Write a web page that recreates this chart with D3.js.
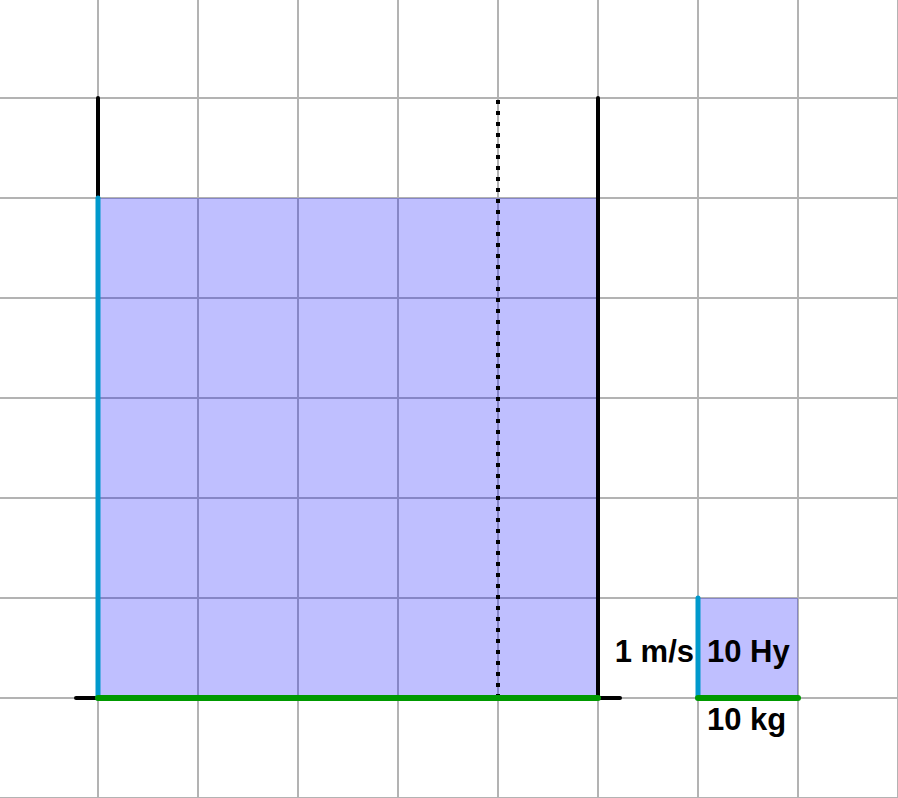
<!DOCTYPE html>
<html>
<head>
<meta charset="utf-8">
<script src="https://cdn.jsdelivr.net/npm/d3@7"></script>
<style>
html,body{margin:0;padding:0;background:#fff;overflow:hidden;}
svg{display:block;}
</style>
</head>
<body>
<svg id="chart" width="898" height="798"></svg>
<script>
// grid lines (data units)
const gridXs = [-1, 0, 1, 2, 3, 4, 5, 6, 7, 8];
const gridYs = [-1, 0, 1, 2, 3, 4, 5, 6, 7];
// shaded boxes: [x0, x1, y0, y1]
const boxX0 = [0, 6];
const boxX1 = [5, 7];
const boxY1 = [5, 1];
// black walls: x, yFrom, yTo
const wallX = [0, 5];
const wallFrom = [5, 0];
const wallTo = [6, 6];
// dotted line
const dotX = 4, dotFrom = 0, dotTo = 6;
// floor line
const floorFrom = -0.22, floorTo = 5.22;
// labels
const labelText = ["1 m/s", "10 Hy", "10 kg"];
const labelX = [6, 6, 6];
const labelY = [0.36, 0.36, -0.32];
const labelAnchor = ["end", "start", "start"];
const labelDx = [-4, 9, 9];

const W = 898, H = 798;
const x = d3.scaleLinear().domain([-0.98, 8.0]).range([0, W]);
const y = d3.scaleLinear().domain([-1, 6.98]).range([H, 0]);
const svg = d3.select("#chart");

// grid
svg.append("g").selectAll("line").data(gridXs).join("line")
  .attr("x1", d => x(d)).attr("x2", d => x(d)).attr("y1", 0).attr("y2", H)
  .attr("stroke", "#b3b3b3").attr("stroke-width", 2);
svg.append("g").selectAll("line").data(gridYs).join("line")
  .attr("y1", d => y(d)).attr("y2", d => y(d)).attr("x1", 0).attr("x2", W)
  .attr("stroke", "#b3b3b3").attr("stroke-width", 2);

// boxes
svg.append("g").selectAll("rect").data(boxX0.map((d, i) => i)).join("rect")
  .attr("x", i => x(boxX0[i])).attr("width", i => x(boxX1[i]) - x(boxX0[i]))
  .attr("y", i => y(boxY1[i])).attr("height", i => y(0) - y(boxY1[i]))
  .attr("fill", "rgb(0,0,255)").attr("fill-opacity", 0.25);

// floor (black)
svg.append("line")
  .attr("x1", x(floorFrom)).attr("x2", x(floorTo)).attr("y1", y(0)).attr("y2", y(0))
  .attr("stroke", "#000").attr("stroke-width", 4).attr("stroke-linecap", "round");

// walls
svg.append("g").selectAll("line").data(wallX.map((d, i) => i)).join("line")
  .attr("x1", i => x(wallX[i])).attr("x2", i => x(wallX[i]))
  .attr("y1", i => y(wallFrom[i])).attr("y2", i => y(wallTo[i]))
  .attr("stroke", "#000").attr("stroke-width", 4).attr("stroke-linecap", "round");

// dotted
svg.append("line")
  .attr("x1", x(dotX)).attr("x2", x(dotX)).attr("y1", y(dotTo) + 2).attr("y2", y(dotFrom))
  .attr("stroke", "#000").attr("stroke-width", 4).attr("stroke-dasharray", "4,7");

// cyan verticals (box heights)
svg.append("g").selectAll("line").data(boxX0.map((d, i) => i)).join("line")
  .attr("x1", i => x(boxX0[i])).attr("x2", i => x(boxX0[i]))
  .attr("y1", i => y(0)).attr("y2", i => y(boxY1[i]))
  .attr("stroke", "rgb(0,153,204)").attr("stroke-width", 5).attr("stroke-linecap", "round");

// green bases
svg.append("g").selectAll("line").data(boxX0.map((d, i) => i)).join("line")
  .attr("x1", i => x(boxX0[i])).attr("x2", i => x(boxX1[i]))
  .attr("y1", y(0)).attr("y2", y(0))
  .attr("stroke", "rgb(0,153,0)").attr("stroke-width", 6).attr("stroke-linecap", "round");

// labels
svg.append("g").selectAll("text").data(labelText).join("text")
  .attr("x", (d, i) => x(labelX[i]) + labelDx[i])
  .attr("y", (d, i) => y(labelY[i]))
  .attr("text-anchor", (d, i) => labelAnchor[i])
  .attr("font-family", "'Liberation Sans', Arial, sans-serif")
  .attr("font-weight", "bold").attr("font-size", 31).attr("fill", "#000")
  .text(d => d);
</script>
</body>
</html>
